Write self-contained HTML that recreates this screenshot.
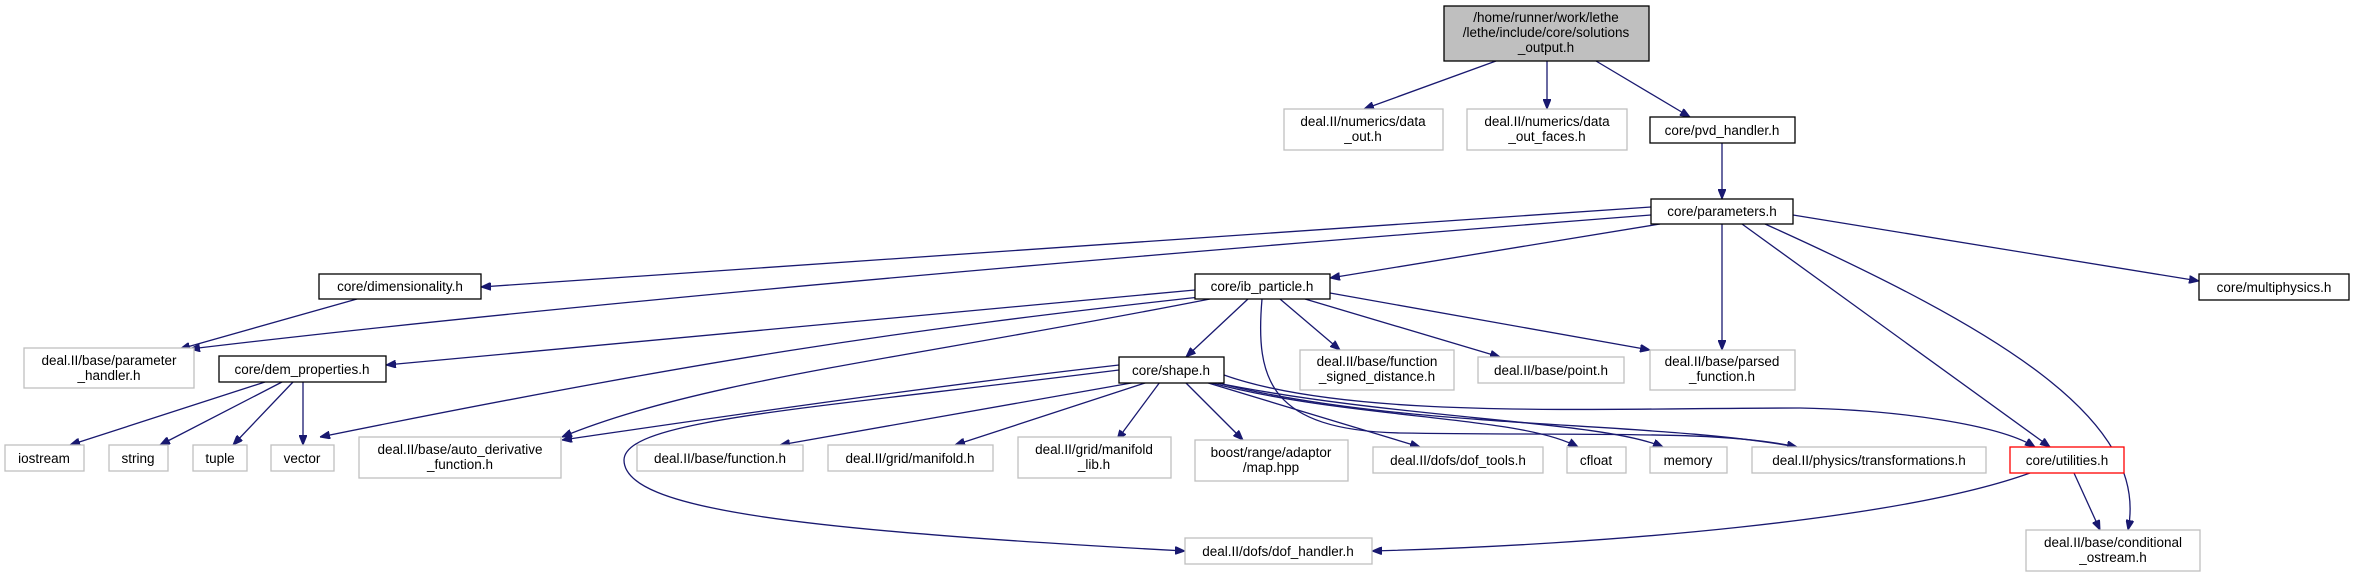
<!DOCTYPE html>
<html><head><meta charset="utf-8"><style>
html,body{margin:0;padding:0;background:#fff;}
svg{display:block;}
text{font-family:"Liberation Sans",sans-serif;font-size:13.5px;fill:#000;}
</style></head><body>
<svg width="2355" height="573" viewBox="0 0 2355 573" xmlns="http://www.w3.org/2000/svg">
<defs>
<marker id="a" viewBox="0 0 10 8" refX="10" refY="4" markerWidth="10" markerHeight="8" markerUnits="userSpaceOnUse" orient="auto">
<path d="M0,0 L10,4 L0,8 z" fill="#191970" stroke="#191970"/>
</marker>
</defs>
<g fill="none" stroke="#191970" stroke-width="1.3" marker-end="url(#a)">
<path d="M1496,61 L1364,109"/>
<path d="M1547,61 L1547,109"/>
<path d="M1596,61 L1690,117"/>
<path d="M1722,143 L1722,199"/>
<path d="M1651,207 L481,287"/>
<path d="M1651,215 C1200,250 600,300 190,349"/>
<path d="M357,299 L180,349"/>
<path d="M1660,224 L1330,278"/>
<path d="M1722,224 L1722,350"/>
<path d="M1742,224 L2050,447"/>
<path d="M1765,224 C2000,330 2150,420 2128,530"/>
<path d="M1793,215 L2199,281"/>
<path d="M1195,290 L386,365"/>
<path d="M1200,297 C900,330 700,360 320,437"/>
<path d="M1210,299 C900,360 700,380 562,437"/>
<path d="M1248,299 L1186,357"/>
<path d="M1262,299 C1255,380 1270,430 1400,433 C1600,436 1720,430 1797,447"/>
<path d="M1280,299 L1340,350"/>
<path d="M1305,299 L1500,357"/>
<path d="M1330,293 L1650,350"/>
<path d="M265,382 L70,445"/>
<path d="M282,382 L160,445"/>
<path d="M293,382 L233,445"/>
<path d="M303,382 L303,445"/>
<path d="M1119,365 C900,390 700,420 562,440"/>
<path d="M1119,370 C800,410 625,420 624,460 C624,510 800,530 1185,551"/>
<path d="M1137,382 L780,445"/>
<path d="M1148,382 L955,445"/>
<path d="M1160,382 L1117,440"/>
<path d="M1185,382 L1243,440"/>
<path d="M1205,382 L1420,447"/>
<path d="M1208,382 C1350,420 1520,415 1578,447"/>
<path d="M1212,382 C1400,420 1600,420 1663,447"/>
<path d="M1214,382 C1400,430 1650,420 1797,447"/>
<path d="M1224,375 C1350,420 1600,408 1800,408 C1900,410 2000,425 2035,447"/>
<path d="M2030,473 C1900,520 1600,545 1372,551"/>
<path d="M2074,473 L2100,530"/>
</g>
<g stroke-width="1.3">
<rect x="1444" y="6" width="205" height="55" fill="#bfbfbf" stroke="#000"/>
<rect x="1284" y="109" width="159" height="41" fill="#fff" stroke="#bfbfbf"/>
<rect x="1467" y="109" width="160" height="41" fill="#fff" stroke="#bfbfbf"/>
<rect x="1650" y="117" width="145" height="26" fill="#fff" stroke="#000"/>
<rect x="1651" y="199" width="142" height="25" fill="#fff" stroke="#000"/>
<rect x="319" y="274" width="162" height="25" fill="#fff" stroke="#000"/>
<rect x="1195" y="274" width="135" height="25" fill="#fff" stroke="#000"/>
<rect x="2199" y="274" width="150" height="26" fill="#fff" stroke="#000"/>
<rect x="24" y="348" width="170" height="40" fill="#fff" stroke="#bfbfbf"/>
<rect x="219" y="356" width="167" height="26" fill="#fff" stroke="#000"/>
<rect x="1119" y="357" width="105" height="26" fill="#fff" stroke="#000"/>
<rect x="1300" y="350" width="154" height="40" fill="#fff" stroke="#bfbfbf"/>
<rect x="1478" y="357" width="146" height="26" fill="#fff" stroke="#bfbfbf"/>
<rect x="1650" y="350" width="145" height="40" fill="#fff" stroke="#bfbfbf"/>
<rect x="5" y="445" width="79" height="26" fill="#fff" stroke="#bfbfbf"/>
<rect x="109" y="445" width="59" height="26" fill="#fff" stroke="#bfbfbf"/>
<rect x="193" y="445" width="54" height="26" fill="#fff" stroke="#bfbfbf"/>
<rect x="271" y="445" width="63" height="26" fill="#fff" stroke="#bfbfbf"/>
<rect x="359" y="437" width="202" height="41" fill="#fff" stroke="#bfbfbf"/>
<rect x="637" y="445" width="166" height="26" fill="#fff" stroke="#bfbfbf"/>
<rect x="828" y="445" width="165" height="26" fill="#fff" stroke="#bfbfbf"/>
<rect x="1018" y="437" width="153" height="41" fill="#fff" stroke="#bfbfbf"/>
<rect x="1195" y="440" width="153" height="41" fill="#fff" stroke="#bfbfbf"/>
<rect x="1373" y="447" width="170" height="26" fill="#fff" stroke="#bfbfbf"/>
<rect x="1567" y="447" width="59" height="26" fill="#fff" stroke="#bfbfbf"/>
<rect x="1650" y="447" width="77" height="26" fill="#fff" stroke="#bfbfbf"/>
<rect x="1752" y="447" width="234" height="26" fill="#fff" stroke="#bfbfbf"/>
<rect x="2010" y="447" width="114" height="26" fill="#fff" stroke="#ff0000"/>
<rect x="1185" y="538" width="187" height="26" fill="#fff" stroke="#bfbfbf"/>
<rect x="2026" y="530" width="174" height="41" fill="#fff" stroke="#bfbfbf"/>
</g>
<g text-anchor="middle">
<text x="1546" y="22">/home/runner/work/lethe</text>
<text x="1546" y="37">/lethe/include/core/solutions</text>
<text x="1546" y="52">_output.h</text>
<text x="1363" y="126">deal.II/numerics/data</text>
<text x="1363" y="141">_out.h</text>
<text x="1547" y="126">deal.II/numerics/data</text>
<text x="1547" y="141">_out_faces.h</text>
<text x="1722" y="135">core/pvd_handler.h</text>
<text x="1722" y="216">core/parameters.h</text>
<text x="400" y="291">core/dimensionality.h</text>
<text x="1262" y="291">core/ib_particle.h</text>
<text x="2274" y="292">core/multiphysics.h</text>
<text x="109" y="365">deal.II/base/parameter</text>
<text x="109" y="380">_handler.h</text>
<text x="302" y="374">core/dem_properties.h</text>
<text x="1171" y="375">core/shape.h</text>
<text x="1377" y="366">deal.II/base/function</text>
<text x="1377" y="381">_signed_distance.h</text>
<text x="1551" y="375">deal.II/base/point.h</text>
<text x="1722" y="366">deal.II/base/parsed</text>
<text x="1722" y="381">_function.h</text>
<text x="44" y="463">iostream</text>
<text x="138" y="463">string</text>
<text x="220" y="463">tuple</text>
<text x="302" y="463">vector</text>
<text x="460" y="454">deal.II/base/auto_derivative</text>
<text x="460" y="469">_function.h</text>
<text x="720" y="463">deal.II/base/function.h</text>
<text x="910" y="463">deal.II/grid/manifold.h</text>
<text x="1094" y="454">deal.II/grid/manifold</text>
<text x="1094" y="469">_lib.h</text>
<text x="1271" y="457">boost/range/adaptor</text>
<text x="1271" y="472">/map.hpp</text>
<text x="1458" y="465">deal.II/dofs/dof_tools.h</text>
<text x="1596" y="465">cfloat</text>
<text x="1688" y="465">memory</text>
<text x="1869" y="465">deal.II/physics/transformations.h</text>
<text x="2067" y="465">core/utilities.h</text>
<text x="1278" y="556">deal.II/dofs/dof_handler.h</text>
<text x="2113" y="547">deal.II/base/conditional</text>
<text x="2113" y="562">_ostream.h</text>
</g>
</svg>
</body></html>
